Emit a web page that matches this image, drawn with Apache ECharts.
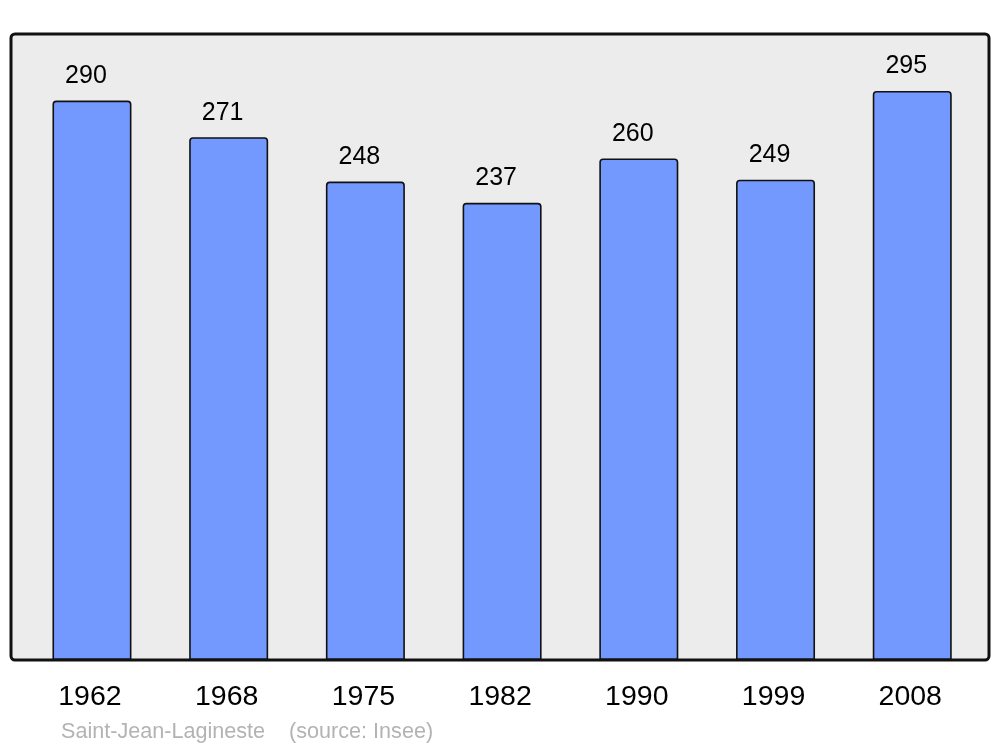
<!DOCTYPE html>
<html><head><meta charset="utf-8">
<script src="https://cdn.jsdelivr.net/npm/echarts@6/dist/echarts.min.js"></script>
<style>html,body{margin:0;padding:0;background:#fff}#c{width:1000px;height:747px}</style>
</head><body><div id="c"></div>
<script>
const years = ['1962','1968','1975','1982','1990','1999','2008'];
const population = [290, 271, 248, 237, 260, 249, 295];
const footerText = 'Saint-Jean-Lagineste    (source: Insee)';

const chart = echarts.init(document.getElementById('c'), null, {renderer: 'canvas'});
chart.setOption({
  animation: false,
  backgroundColor: '#ffffff',
  textStyle: {fontFamily: 'Liberation Sans, Arial, sans-serif'},
  title: {
    text: footerText, left: 56, top: 716,
    textStyle: {fontSize: 21.6, fontWeight: 'normal', color: '#b3b3b3', fontFamily: 'Liberation Sans, Arial, sans-serif'}
  },
  graphic: [
    {type: 'rect', z: -10, shape: {x: 11, y: 34, width: 978, height: 626, r: 4}, style: {fill: '#ececec', stroke: null}},
    {type: 'rect', z: 100, shape: {x: 11, y: 34, width: 978, height: 626, r: 4}, style: {fill: null, stroke: '#111111', lineWidth: 3}}
  ],
  grid: {left: 23.6, right: 19.4, top: 34, bottom: 87, containLabel: false},
  xAxis: {
    type: 'category', data: years,
    axisLine: {show: false}, axisTick: {show: false},
    axisLabel: {fontSize: 28.5, color: '#000', margin: 23, fontFamily: 'Liberation Sans, Arial, sans-serif',
      padding: [0, 4, 0, 0]}
  },
  yAxis: {
    type: 'value', min: 0, max: 324.5,
    show: false, splitLine: {show: false}
  },
  series: [{
    type: 'bar', data: population, barWidth: 79,
    itemStyle: {color: '#7399ff', borderColor: '#111111', borderWidth: 1.6, borderRadius: [3, 3, 0, 0]},
    label: {show: true, position: 'top', distance: 12, offset: [-6, 0], fontSize: 25, color: '#000', fontFamily: 'Liberation Sans, Arial, sans-serif'}
  }]
});
</script></body></html>
